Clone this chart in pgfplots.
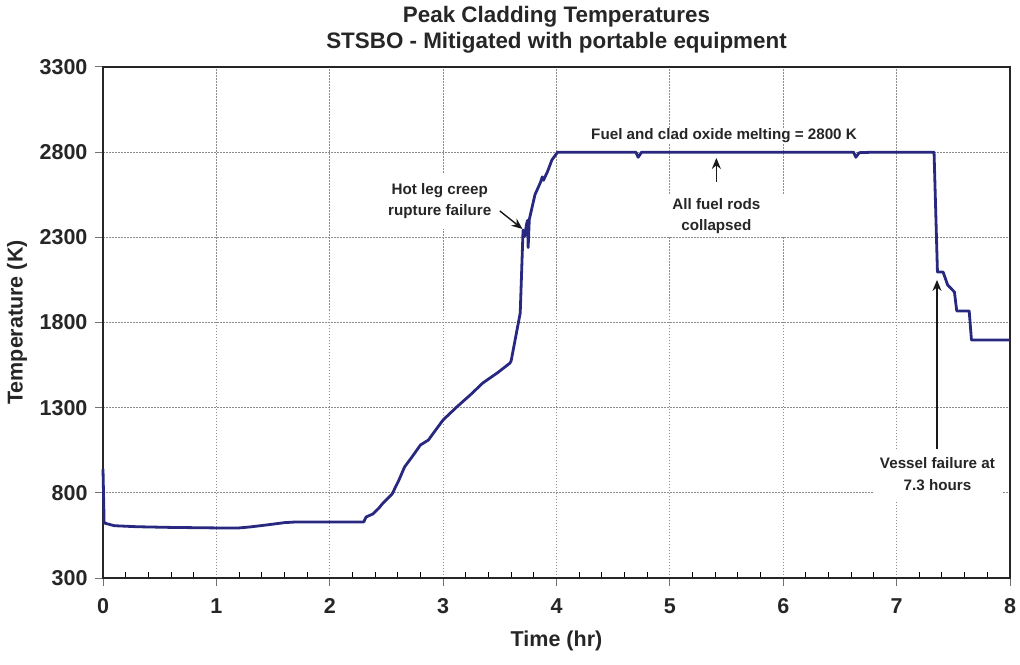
\documentclass[border=0pt]{standalone}
\usepackage{fontspec}
\setmainfont{Liberation Sans}
\usepackage{pgfplots}
\pgfplotsset{compat=1.18}
\usetikzlibrary{arrows.meta,calc}
\definecolor{navy}{RGB}{40,40,128}
\begin{document}
\begin{tikzpicture}
\begin{axis}[
 name=ax,
 scale only axis, width=907pt, height=511pt,
 xmin=0,xmax=8,ymin=300,ymax=3300,
 xtick={0,...,8}, ytick={300,800,...,3300},
 minor x tick num=4,
 xtick pos=bottom, ytick pos=left,
 grid=major,
 major grid style={black!45, dash pattern=on 1.5pt off 1.5pt, line width=0.9pt},
 axis line style={line width=1.5pt, black!85},
 tick align=outside,
 major tick length=8pt, minor tick length=6pt,
 minor x tick style={yshift=6pt, line width=1pt, black},
 major tick style={line width=1pt, black!55},
 /pgf/number format/assume math mode=true,
 /pgf/number format/1000 sep={},
 scaled ticks=false,
 tick label style={font=\bfseries\fontsize{21.5}{21.5}\selectfont, text=black!85},
 xticklabel style={yshift=-9pt},
 yticklabel style={xshift=-4pt},
 clip=false,
]
\addplot[navy, line width=2.8pt, line join=round] coordinates {
(0,940) (0.01,623) (0.1,607) (0.3,601) (0.6,597) (1.0,594) (1.2,594) (1.3,600) (1.45,612) (1.6,625) (1.7,629) (2.0,629) (2.30,629)
(2.32,658) (2.38,676) (2.43,708) (2.47,740) (2.55,793) (2.61,875) (2.66,952) (2.73,1015) (2.80,1081) (2.87,1110) (2.93,1165) (3.0,1228)
(3.12,1304) (3.24,1375) (3.35,1445) (3.48,1505) (3.59,1562) (3.60,1575) (3.68,1856) (3.705,2343) (3.72,2305) (3.735,2375) (3.745,2400)
(3.75,2240) (3.76,2405) (3.81,2550) (3.86,2625) (3.875,2655) (3.885,2635) (3.92,2685) (3.96,2755) (4.01,2800)
(4.70,2800) (4.72,2770) (4.75,2800) (6.62,2800) (6.64,2770) (6.67,2797) (6.80,2800) (7.33,2800)
(7.36,2096) (7.41,2096) (7.45,2020) (7.51,1979) (7.53,1868) (7.64,1868) (7.66,1697) (8.0,1697)
};
\node[fill=white, align=center, inner xsep=6pt, inner ysep=10pt, font=\bfseries\fontsize{15.2}{21}\selectfont, text=black!85]
  at (axis cs:2.97,2510) {Hot leg creep\\rupture failure};
\draw[-{Stealth[length=11pt,width=9pt]}, line width=1.4pt, black!90] (axis cs:3.50,2455) -- (axis cs:3.70,2349);
\node[fill=white, inner sep=1pt, font=\bfseries\fontsize{15.2}{18}\selectfont, text=black!85]
  at (axis cs:5.478,2895) {Fuel and clad oxide melting = 2800 K};
\node[fill=white, align=center, minimum width=150pt, minimum height=42pt, inner sep=1pt, font=\bfseries\fontsize{15.2}{21}\selectfont, text=black!85]
  at (axis cs:5.41,2425) {All fuel rods\\collapsed};
\draw[-{Stealth[length=11pt,width=9pt]}, line width=1.4pt, black!90] (axis cs:5.41,2625) -- (axis cs:5.41,2766);
\node[fill=white, align=center, minimum width=129pt, minimum height=51pt, inner sep=1pt, font=\bfseries\fontsize{15.2}{22}\selectfont, text=black!85]
  at (axis cs:7.36,910) {Vessel failure at\\7.3 hours};
\draw[-{Stealth[length=11pt,width=9pt]}, line width=1.4pt, black!90] (axis cs:7.356,1057) -- (axis cs:7.356,2050);
\end{axis}
\node[font=\bfseries\fontsize{22.4}{26}\selectfont, align=center, text=black!85] at ($(ax.north)+(0,37pt)$) {Peak Cladding Temperatures\\STSBO - Mitigated with portable equipment};
\node[font=\bfseries\fontsize{21.5}{21.5}\selectfont, text=black!85] at ($(ax.south)+(0,-63pt)$) {Time (hr)};
\node[font=\bfseries\fontsize{21.5}{21.5}\selectfont, text=black!85, rotate=90] at ($(ax.west)+(-86pt,0)$) {Temperature (K)};
\pgfresetboundingbox
\path ($(ax.south west)+(-103pt,-86pt)$) rectangle ($(ax.north east)+(10pt,67pt)$);
\end{tikzpicture}
\end{document}
